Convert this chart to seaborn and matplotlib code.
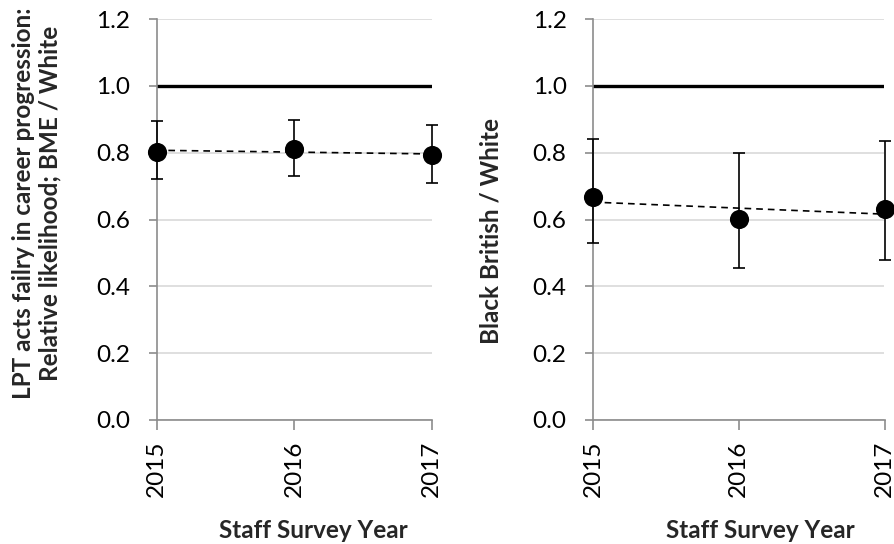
import matplotlib
matplotlib.use("Agg")
import matplotlib.pyplot as plt
import seaborn as sns
import numpy as np
import pandas as pd

years = [2015, 2016, 2017]
tick_labels = ["2015", "2016", "2017"]

# Left panel: BME / White
left_values = [0.803, 0.810, 0.792]
left_upper = [0.895, 0.898, 0.884]
left_lower = [0.721, 0.730, 0.709]

# Right panel: Black British / White
right_values = [0.668, 0.602, 0.632]
right_upper = [0.840, 0.798, 0.836]
right_lower = [0.529, 0.454, 0.479]

reference_value = 1.0
y_ticks = [0.0, 0.2, 0.4, 0.6, 0.8, 1.0, 1.2]

left_ylabel = "LPT acts failry in career progression:\nRelative likelihood; BME / White"
right_ylabel = "Black British / White"
xlabel = "Staff Survey Year"

sns.set_theme(style="white")
plt.rcParams["font.family"] = ["Lato", "DejaVu Sans"]

fig = plt.figure(figsize=(8.95, 5.44), dpi=100)
H = 544.0
W = 895.0
ax_bottom = 1 - 420 / H
ax_height = (420 - 19) / H
ax1 = fig.add_axes([156.7 / W, ax_bottom, (431.7 - 156.7) / W, ax_height])
ax2 = fig.add_axes([593 / W, ax_bottom, (884.5 - 593) / W, ax_height])

FS = 17.5
LFS = 17.5
panels = [
    (ax1, left_values, left_upper, left_lower),
    (ax2, right_values, right_upper, right_lower),
]
for ax, vals, up, lo in panels:
    df = pd.DataFrame({"year": years, "value": vals, "upper": up, "lower": lo})
    ax.set_xlim(years[0], years[-1])
    ax.set_ylim(0, 1.2)
    ax.set_yticks(y_ticks)
    ax.set_yticklabels([f"{t:.1f}" for t in y_ticks], fontsize=FS, color="#000000")
    ax.set_xticks(years)
    ax.set_xticklabels(tick_labels, rotation=90, fontsize=FS, color="#000000")
    ax.yaxis.grid(True, color="#d9d9d9", linewidth=1.2, zorder=0)
    ax.xaxis.grid(False)
    for s in ["top", "right"]:
        ax.spines[s].set_visible(False)
    for s in ["left", "bottom"]:
        ax.spines[s].set_color("#8c8c8c")
        ax.spines[s].set_linewidth(1.2)
    ax.tick_params(axis="y", which="major", direction="out", length=6, width=1.2,
                   color="#8c8c8c", pad=13, left=True)
    ax.tick_params(axis="x", which="major", direction="out", length=7, width=1.2,
                   color="#8c8c8c", pad=8, bottom=True)

    # reference line at 1.0
    ax.axhline(reference_value, color="black", linewidth=2.4, zorder=2)

    # error bars
    yerr = np.array([df["value"] - df["lower"], df["upper"] - df["value"]])
    ax.errorbar(df["year"], df["value"], yerr=yerr, fmt="none", ecolor="black",
                elinewidth=1.2, capsize=4.5, capthick=1.2, zorder=3, clip_on=False)

    # linear trend line
    sns.regplot(data=df, x="year", y="value", ax=ax, ci=None, scatter=False,
                line_kws=dict(color="black", linewidth=1.2, linestyle=(0, (4, 3)), zorder=4))

    # points
    sns.scatterplot(data=df, x="year", y="value", ax=ax, s=190, color="black",
                    edgecolor="black", linewidth=0, zorder=5, clip_on=False, legend=False)

    ax.set_xlim(years[0], years[-1])
    ax.set_ylim(0, 1.2)
    ax.set_xlabel("")
    ax.set_ylabel("")

fig.text(37 / W, 1 - 203 / H, left_ylabel, rotation=90, ha="center", va="center",
         fontsize=LFS, fontweight="bold", multialignment="center")
fig.text(491 / W, 1 - 231 / H, right_ylabel, rotation=90, ha="center", va="center",
         fontsize=LFS, fontweight="bold")
fig.text(313 / W, 1 - 531 / H, xlabel, ha="center", va="center",
         fontsize=LFS, fontweight="bold")
fig.text(760 / W, 1 - 531 / H, xlabel, ha="center", va="center",
         fontsize=LFS, fontweight="bold")

fig.savefig("out.png", dpi=100)
